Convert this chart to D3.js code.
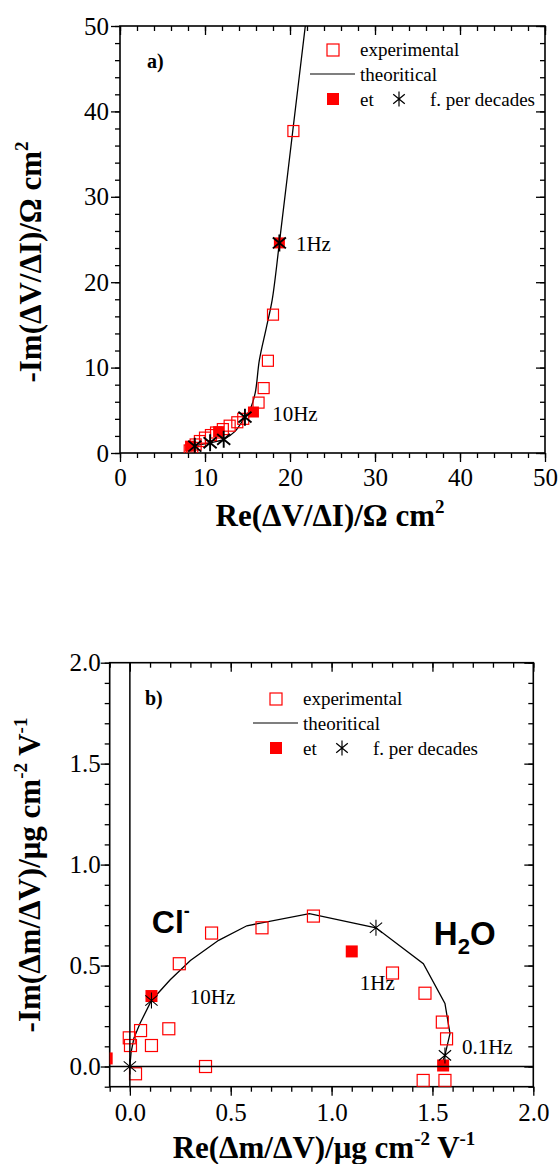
<!DOCTYPE html>
<html>
<head>
<meta charset="utf-8">
<script src="https://cdn.jsdelivr.net/npm/d3@7"></script>
<style>
	body { margin: 0; background: #fff; }
	svg { display: block; }
	text { font-family: "Liberation Serif", serif; fill: #000; }
</style>
</head>
<body>
<svg width="559" height="1164"></svg>
<script>
// ---- panel a) electrical impedance ----
const aExperimental = [
	[8.2, 0.3], [8.5, 0.6], [8.9, 1.0], [9.4, 1.4], [10.0, 1.8], [10.7, 2.1],
	[11.3, 2.4], [12.1, 2.8], [12.9, 3.2], [13.8, 3.6], [14.5, 4.0], [16.3, 5.9],
	[16.9, 7.6], [17.4, 10.8], [18.0, 16.2], [20.4, 37.7]
]
const aFilled = [[8.3, 0.8], [11.6, 2.5], [15.7, 4.8], [18.75, 24.6]]
const aStars = [[8.8, 0.8], [10.6, 1.2], [12.2, 1.6], [14.7, 4.2], [18.75, 24.6]]
const aTheory = [
	[8.3, 0.2], [8.8, 0.8], [9.6, 1.0], [10.6, 1.2], [12.2, 1.6], [13.5, 2.5],
	[14.7, 4.2], [15.3, 5.1], [15.9, 7.0], [16.4, 10.9], [17.2, 14.6], [17.9, 17.9],
	[18.75, 24.6], [20.3, 37.5], [21.8, 50]
]
const aMajor = [0, 10, 20, 30, 40, 50]
const aMinor = d3.range(0, 51, 2)

// ---- panel b) mass / potential transfer function ----
const bExperimental = [
	[0.028, -0.036], [0.003, 0.104], [-0.003, 0.142], [0.107, 0.104], [0.053, 0.178],
	[0.193, 0.187], [0.375, 0.0], [0.245, 0.509], [0.405, 0.661], [0.655, 0.687],
	[0.91, 0.745], [1.302, 0.463], [1.463, 0.363], [1.549, 0.22], [1.57, 0.137],
	[1.454, -0.069], [1.562, -0.069]
]
const bFilled = [[-0.115, 0.04], [0.107, 0.349], [1.10, 0.57], [1.553, 0.005]]
const bStars = [[0, 0], [0.107, 0.327], [1.22, 0.687], [1.562, 0.055]]
const bTheory = [
	[0, 0], [0.006, 0.07], [0.02, 0.14], [0.05, 0.213], [0.107, 0.327], [0.2, 0.43],
	[0.3, 0.525], [0.44, 0.625], [0.58, 0.697], [0.89, 0.757], [1.22, 0.687],
	[1.455, 0.509], [1.562, 0.312], [1.587, 0.163], [1.562, 0.055], [1.545, 0.01]
]
const bMajor = [0, 0.5, 1, 1.5, 2]
const bMinor = d3.range(-1, 21).map(d => d / 10)

const svg = d3.select("svg")
const RED = "#ff0000"
const SERIF = '"Liberation Serif", serif'
const SANS = '"Liberation Sans", sans-serif'

function starPath(r) {
	const a = r * 0.77, b = r * 0.64
	return `M0,${-r}L0,${r}M${-a},${-b}L${a},${b}M${-a},${b}L${a},${-b}`
}

function panel(o) {
	const x = d3.scaleLinear().domain(o.xDomain).range(o.xRange)
	const y = d3.scaleLinear().domain(o.yDomain).range(o.yRange)
	const g = svg.append("g")
	const [x0, x1] = o.xRange, [y0, y1] = o.yRange

	g.append("clipPath").attr("id", o.id + "clip")
		.append("rect").attr("x", x0).attr("y", y1).attr("width", x1 - x0).attr("height", y0 - y1)

	// ticks: outward bottom/left, inward top/right
	const axes = [
		[d3.axisBottom(x), `translate(0,${y0})`, 1],
		[d3.axisTop(x), `translate(0,${y1})`, -1],
		[d3.axisLeft(y), `translate(${x0},0)`, 1],
		[d3.axisRight(y), `translate(${x1},0)`, -1]
	]
	axes.forEach(([ax, tr, dir], i) => {
		const horiz = i < 2
		const minor = horiz ? o.xMinor : o.yMinor
		const major = horiz ? o.xMajor : o.yMajor
		g.append("g").attr("transform", tr)
			.call(ax.tickValues(minor).tickSizeInner(5 * dir).tickSizeOuter(0).tickFormat(""))
			.call(s => s.select(".domain").remove())
		g.append("g").attr("transform", tr)
			.call(ax.tickValues(major).tickSizeInner(9 * dir).tickSizeOuter(0)
				.tickFormat(dir === 1 ? o.fmt : "")
				.tickPadding(horiz ? o.padX : o.padY))
			.call(s => s.select(".domain").remove())
			.attr("font-family", SERIF)
			.attr("font-size", 25)
	})
	g.selectAll(".tick line").attr("stroke", "#000").attr("stroke-width", 1.3)
	g.selectAll(".tick text").style("font-family", SERIF).style("font-size", "25px")

	g.append("rect").attr("x", x0).attr("y", y1).attr("width", x1 - x0).attr("height", y0 - y1)
		.attr("fill", "none").attr("stroke", "#000").attr("stroke-width", 1.6)

	const plot = g.append("g").attr("clip-path", `url(#${o.id}clip)`)
	return { x, y, g, plot }
}

function drawData(p, experimental, filled, stars, theory, o) {
	const { x, y, plot } = p
	plot.append("path")
		.datum(theory)
		.attr("fill", "none").attr("stroke", "#000").attr("stroke-width", 1.3)
		.attr("d", d3.line().x(d => x(d[0])).y(d => y(d[1])).curve(o.curve))
	plot.selectAll(null).data(experimental).join("rect")
		.attr("x", d => x(d[0]) - o.sq / 2).attr("y", d => y(d[1]) - o.sq / 2)
		.attr("width", o.sq).attr("height", o.sq)
		.attr("fill", "none").attr("stroke", RED).attr("stroke-width", 1.2)
	plot.selectAll(null).data(filled).join("rect")
		.attr("x", d => x(d[0]) - o.sq / 2).attr("y", d => y(d[1]) - o.sq / 2)
		.attr("width", o.sq).attr("height", o.sq)
		.attr("fill", RED)
	plot.selectAll(null).data(stars).join("path")
		.attr("transform", d => `translate(${x(d[0])},${y(d[1])})`)
		.attr("d", starPath(o.star))
		.attr("fill", "none").attr("stroke", "#000").attr("stroke-width", o.starW)
}

function legend(x, y, fs) {
	const L = svg.append("g").style("font-size", fs + "px")
	L.append("rect").attr("x", x - 6).attr("y", y - 6).attr("width", 12).attr("height", 12)
		.attr("fill", "none").attr("stroke", RED).attr("stroke-width", 1.2)
	L.append("text").attr("x", x + 27).attr("y", y + 6).text("experimental")
	L.append("line").attr("x1", x - 23).attr("x2", x + 22).attr("y1", y + 24).attr("y2", y + 24)
		.attr("stroke", "#000").attr("stroke-width", 1.2)
	L.append("text").attr("x", x + 27).attr("y", y + 31).text("theoritical")
	L.append("rect").attr("x", x - 6).attr("y", y + 43).attr("width", 12).attr("height", 12)
		.attr("fill", RED)
	L.append("text").attr("x", x + 27).attr("y", y + 56).text("et")
	L.append("path").attr("transform", `translate(${x + 66},${y + 49})`).attr("d", starPath(7.5))
		.attr("fill", "none").attr("stroke", "#000").attr("stroke-width", 1.2)
	L.append("text").attr("x", x + 97).attr("y", y + 56).text("f. per decades")
}

// ================= panel a =================
const pa = panel({
	id: "a", xDomain: [0, 50], yDomain: [0, 50], xRange: [120, 545], yRange: [453, 26],
	xMajor: aMajor, xMinor: aMinor, yMajor: aMajor, yMinor: aMinor,
	fmt: d3.format("d"), padX: 6, padY: 2
})
drawData(pa, aExperimental, aFilled, aStars, aTheory,
	{ sq: 11, star: 8.5, starW: 1.9, curve: d3.curveCatmullRom })
legend(333, 50, 19)

pa.g.append("text").attr("x", 147).attr("y", 68).style("font-size", "20px").style("font-weight", "bold").text("a)")
pa.g.append("text").attr("x", pa.x(20.7)).attr("y", pa.y(23.65)).style("font-size", "21px").text("1Hz")
pa.g.append("text").attr("x", pa.x(17.9)).attr("y", pa.y(3.75)).style("font-size", "21px").text("10Hz")

const aXLab = svg.append("text").attr("x", 330).attr("y", 526).attr("text-anchor", "middle")
	.style("font-size", "31px").style("font-weight", "bold")
aXLab.append("tspan").text("Re(ΔV/ΔI)/Ω cm")
aXLab.append("tspan").attr("dy", -13).style("font-size", "19px").text("2")

const aYLab = svg.append("text").attr("transform", "translate(41,262) rotate(-90)")
	.attr("text-anchor", "middle").style("font-size", "31px").style("font-weight", "bold")
aYLab.append("tspan").text("-Im(ΔV/ΔI)/Ω cm")
aYLab.append("tspan").attr("dy", -13).style("font-size", "19px").text("2")

// ================= panel b =================
const pb = panel({
	id: "b", xDomain: [-0.1, 2.0], yDomain: [-0.1, 2.0], xRange: [109.7, 533.3], yRange: [1086.7, 662.7],
	xMajor: bMajor, xMinor: bMinor, yMajor: bMajor, yMinor: bMinor,
	fmt: d3.format(".1f"), padX: 8, padY: 0
})
// zero lines
pb.g.append("line").attr("x1", pb.x(0)).attr("x2", pb.x(0)).attr("y1", 662.7).attr("y2", 1086.7)
	.attr("stroke", "#000").attr("stroke-width", 1.5)
pb.g.append("line").attr("x1", 109.7).attr("x2", 533.3).attr("y1", pb.y(0)).attr("y2", pb.y(0))
	.attr("stroke", "#000").attr("stroke-width", 1.5)
drawData(pb, bExperimental, bFilled, bStars, bTheory,
	{ sq: 12, star: 8, starW: 1.1, curve: d3.curveLinear })
legend(276, 699, 19)

pb.g.append("text").attr("x", 145).attr("y", 705).style("font-size", "20px").style("font-weight", "bold").text("b)")
pb.g.append("text").attr("x", pb.x(0.297)).attr("y", pb.y(0.312)).style("font-size", "21px").text("10Hz")
pb.g.append("text").attr("x", pb.x(1.14)).attr("y", pb.y(0.377)).style("font-size", "21px").text("1Hz")
pb.g.append("text").attr("x", pb.x(1.646)).attr("y", pb.y(0.06)).style("font-size", "21px").text("0.1Hz")

const cl = pb.g.append("text").attr("x", pb.x(0.109)).attr("y", pb.y(0.66))
	.style("font-family", SANS).style("font-weight", "bold").style("font-size", "32px")
cl.append("tspan").text("Cl")
cl.append("tspan").attr("dy", -16).style("font-size", "18px").text("-")
const h2o = pb.g.append("text").attr("x", pb.x(1.507)).attr("y", pb.y(0.6))
	.style("font-family", SANS).style("font-weight", "bold").style("font-size", "33px")
h2o.append("tspan").text("H")
h2o.append("tspan").attr("dy", 9).style("font-size", "22px").text("2")
h2o.append("tspan").attr("dy", -9).text("O")

const bXLab = svg.append("text").attr("x", 324).attr("y", 1158).attr("text-anchor", "middle")
	.style("font-size", "31px").style("font-weight", "bold")
bXLab.append("tspan").text("Re(Δm/ΔV)/μg cm")
bXLab.append("tspan").attr("dy", -13).style("font-size", "19px").text("-2")
bXLab.append("tspan").attr("dy", 13).text(" V")
bXLab.append("tspan").attr("dy", -13).style("font-size", "19px").text("-1")

const bYLab = svg.append("text").attr("transform", "translate(40,875) rotate(-90)")
	.attr("text-anchor", "middle").style("font-size", "31px").style("font-weight", "bold")
bYLab.append("tspan").text("-Im(Δm/ΔV)/μg cm")
bYLab.append("tspan").attr("dy", -13).style("font-size", "19px").text("-2")
bYLab.append("tspan").attr("dy", 13).text(" V")
bYLab.append("tspan").attr("dy", -13).style("font-size", "19px").text("-1")
</script>
</body>
</html>
